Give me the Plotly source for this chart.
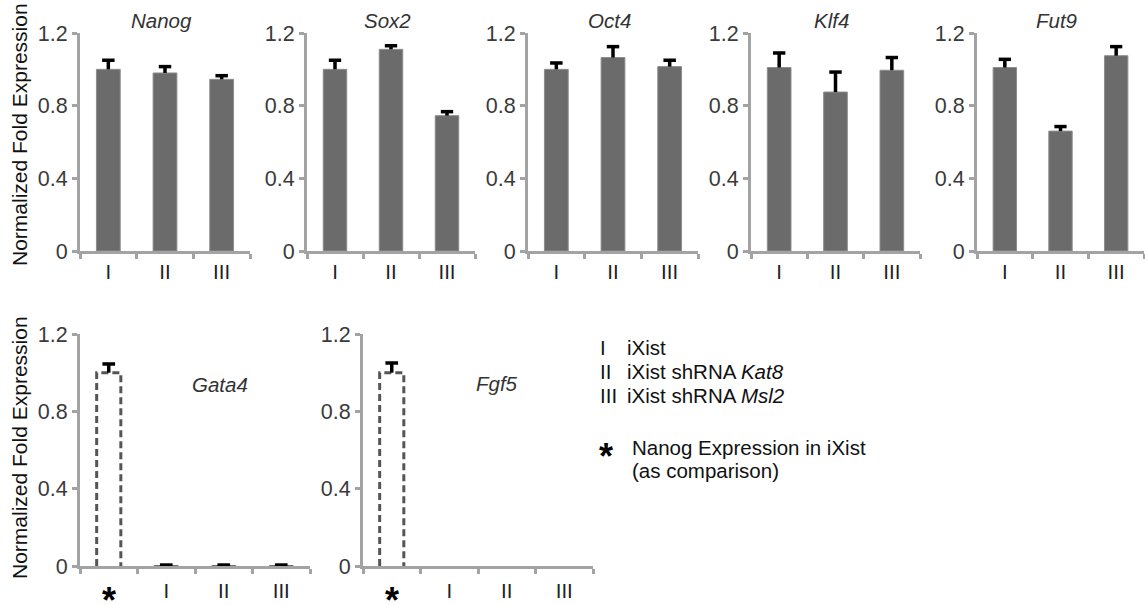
import plotly.graph_objects as go

# ---------------- data ----------------
top_genes = ["Nanog", "Sox2", "Oct4", "Klf4", "Fut9"]
top_categories = ["I", "II", "III"]
nanog_vals = [1.00, 0.98, 0.945]
nanog_err = [0.05, 0.035, 0.02]
sox2_vals = [1.00, 1.11, 0.745]
sox2_err = [0.05, 0.02, 0.022]
oct4_vals = [1.00, 1.065, 1.015]
oct4_err = [0.035, 0.06, 0.035]
klf4_vals = [1.01, 0.875, 0.995]
klf4_err = [0.08, 0.11, 0.07]
fut9_vals = [1.01, 0.66, 1.075]
fut9_err = [0.045, 0.025, 0.05]

bottom_genes = ["Gata4", "Fgf5"]
bottom_categories = ["*", "I", "II", "III"]
gata4_vals = [1.00, 0.002, 0.002, 0.002]
gata4_err = [0.045, 0.003, 0.003, 0.003]
fgf5_vals = [1.00, 0.0, 0.0, 0.0]
fgf5_err = [0.05, 0.0, 0.0, 0.0]

y_tick_vals = [0, 0.4, 0.8, 1.2]
y_tick_text = ["0", "0.4", "0.8", "1.2"]

legend_roman = ["I", "II", "III"]
legend_desc = ["iXist", "iXist shRNA <i>Kat8</i>", "iXist shRNA <i>Msl2</i>"]
star_note = ["Nanog Expression in iXist", "(as comparison)"]
y_title = "Normalized Fold Expression"

# ---------------- style ----------------
W, H = 1145, 605
FONT = "Arial, 'Liberation Sans', sans-serif"
BAR_COLOR = "#6b6b6b"
AXIS_COLOR = "#a3a3a3"
TEXT_COLOR = "#333333"
BAR_W = 0.42
CAP = 0.11
FS = 20.5

top_vals = [nanog_vals, sox2_vals, oct4_vals, klf4_vals, fut9_vals]
top_errs = [nanog_err, sox2_err, oct4_err, klf4_err, fut9_err]
bottom_vals = [gata4_vals, fgf5_vals]
bottom_errs = [gata4_err, fgf5_err]

# pixel boxes (left, right, top, bottom)
top_x_px = [(80, 250), (307, 475), (528, 698), (751, 920), (977, 1144)]
top_y_px = (33, 251)
bottom_x_px = [(80, 310), (363, 593)]
bottom_y_px = (334, 566)


def px_x(v):
    return v / W


def px_y(v):
    return 1 - v / H


fig = go.Figure()
layout = dict(
    width=W, height=H,
    margin=dict(l=0, r=0, t=0, b=0, autoexpand=False),
    paper_bgcolor="white", plot_bgcolor="white",
    showlegend=False,
    font=dict(family=FONT, color=TEXT_COLOR, size=FS),
)
annotations = []


def err_lines(vals, errs):
    xs, ys = [], []
    for i, (v, e) in enumerate(zip(vals, errs)):
        if e <= 0:
            continue
        xs += [i, i, None, i - CAP, i + CAP, None]
        ys += [v, v + e, None, v + e, v + e, None]
    return xs, ys


def add_axes(k, xpx, ypx, cats, ticktext, standoff):
    n = len(cats)
    xa = dict(
        domain=[px_x(xpx[0]), px_x(xpx[1])],
        range=[-0.5, n - 0.5],
        anchor=f"y{k if k > 1 else ''}",
        automargin=False,
        showline=True, linecolor=AXIS_COLOR, linewidth=3,
        showgrid=False, zeroline=False,
        tickmode="array", tickvals=list(range(n)), ticktext=ticktext,
        ticks="", tickfont=dict(size=FS, color="#222222"),
        ticklabelstandoff=standoff,
        minor=dict(tickmode="array", tickvals=[i - 0.5 for i in range(n + 1)],
                   ticks="outside", ticklen=5, tickwidth=3, tickcolor=AXIS_COLOR),
        fixedrange=True,
    )
    ya = dict(
        domain=[px_y(ypx[1]), px_y(ypx[0])],
        range=[0, 1.2],
        anchor=f"x{k if k > 1 else ''}",
        automargin=False,
        showline=True, linecolor=AXIS_COLOR, linewidth=3,
        showgrid=False, zeroline=False,
        tickmode="array", tickvals=y_tick_vals, ticktext=y_tick_text,
        ticks="outside", ticklen=5, tickwidth=3, tickcolor=AXIS_COLOR,
        tickfont=dict(size=21.5, color="#3a3a3a"),
        fixedrange=True,
    )
    suffix = str(k) if k > 1 else ""
    layout["xaxis" + suffix] = xa
    layout["yaxis" + suffix] = ya
    return "x" + suffix, "y" + suffix


k = 1
# top row
for gene, vals, errs, xpx in zip(top_genes, top_vals, top_errs, top_x_px):
    xr, yr = add_axes(k, xpx, top_y_px, top_categories, top_categories, 0)
    fig.add_trace(go.Bar(x=list(range(len(vals))), y=vals, width=BAR_W,
                         marker=dict(color=BAR_COLOR, line=dict(color="#8e8e8e", width=1)),
                         xaxis=xr, yaxis=yr, hoverinfo="skip"))
    ex, ey = err_lines(vals, errs)
    fig.add_trace(go.Scatter(x=ex, y=ey, mode="lines",
                             line=dict(color="black", width=3.5),
                             xaxis=xr, yaxis=yr, hoverinfo="skip"))
    annotations.append(dict(text=f"<i>{gene}</i>", xref="paper", yref="paper",
                            x=px_x((xpx[0] + xpx[1]) / 2 - 4), y=px_y(21),
                            xanchor="center", yanchor="middle", showarrow=False,
                            font=dict(size=FS, color=TEXT_COLOR)))
    k += 1

# bottom row
bottom_title_px = [(220, 384), (497, 383)]
for gene, vals, errs, xpx, tpos in zip(bottom_genes, bottom_vals, bottom_errs,
                                        bottom_x_px, bottom_title_px):
    ticktext = [""] + bottom_categories[1:]
    xr, yr = add_axes(k, xpx, bottom_y_px, bottom_categories, ticktext, 4)
    # comparison bar (dashed outline)
    v0 = vals[0]
    fig.add_trace(go.Scatter(x=[-BAR_W / 2, -BAR_W / 2, BAR_W / 2, BAR_W / 2],
                             y=[0, v0, v0, 0], mode="lines",
                             line=dict(color="#555555", width=3, dash="7px,4px"),
                             xaxis=xr, yaxis=yr, hoverinfo="skip"))
    fig.add_trace(go.Bar(x=list(range(1, len(vals))), y=vals[1:], width=BAR_W,
                         marker=dict(color=BAR_COLOR, line=dict(width=0)),
                         xaxis=xr, yaxis=yr, hoverinfo="skip"))
    ex, ey = err_lines(vals, errs)
    fig.add_trace(go.Scatter(x=ex, y=ey, mode="lines",
                             line=dict(color="black", width=3.5),
                             xaxis=xr, yaxis=yr, hoverinfo="skip"))
    # star category label (placed at the category position)
    annotations.append(dict(text="<b>" + bottom_categories[0] + "</b>", xref=xr, yref="paper",
                            x=0, y=px_y(600), xanchor="center", yanchor="middle",
                            showarrow=False, font=dict(size=36, color="black")))
    annotations.append(dict(text=f"<i>{gene}</i>", xref="paper", yref="paper",
                            x=px_x(tpos[0]), y=px_y(tpos[1]),
                            xanchor="center", yanchor="middle", showarrow=False,
                            font=dict(size=FS, color=TEXT_COLOR)))
    k += 1

# y-axis titles
for yc in (135, 448):
    annotations.append(dict(text=y_title, xref="paper", yref="paper",
                            x=px_x(19), y=px_y(yc), textangle=-90,
                            xanchor="center", yanchor="middle", showarrow=False,
                            font=dict(size=21, color="#111111")))

# legend text
for i, (r, d) in enumerate(zip(legend_roman, legend_desc)):
    yc = [347, 371, 395][i]
    annotations.append(dict(text=r, xref="paper", yref="paper", x=px_x(598), y=px_y(yc),
                            xanchor="left", yanchor="middle", showarrow=False,
                            font=dict(size=FS, color="#111111")))
    annotations.append(dict(text=d, xref="paper", yref="paper", x=px_x(625), y=px_y(yc),
                            xanchor="left", yanchor="middle", showarrow=False,
                            font=dict(size=FS, color="#111111")))
annotations.append(dict(text="<b>*</b>", xref="paper", yref="paper", x=px_x(606), y=px_y(457),
                        xanchor="center", yanchor="middle", showarrow=False,
                        font=dict(size=36, color="black")))
for line, yc in zip(star_note, (447, 470)):
    annotations.append(dict(text=line, xref="paper", yref="paper", x=px_x(630), y=px_y(yc),
                            xanchor="left", yanchor="middle", align="left", showarrow=False,
                            font=dict(size=FS, color="#111111")))

layout["annotations"] = annotations
fig.update_layout(**layout)
fig.write_html("out.html", config={"displayModeBar": False},
               post_script="document.body.style.margin='0';document.body.style.overflow='hidden';")
